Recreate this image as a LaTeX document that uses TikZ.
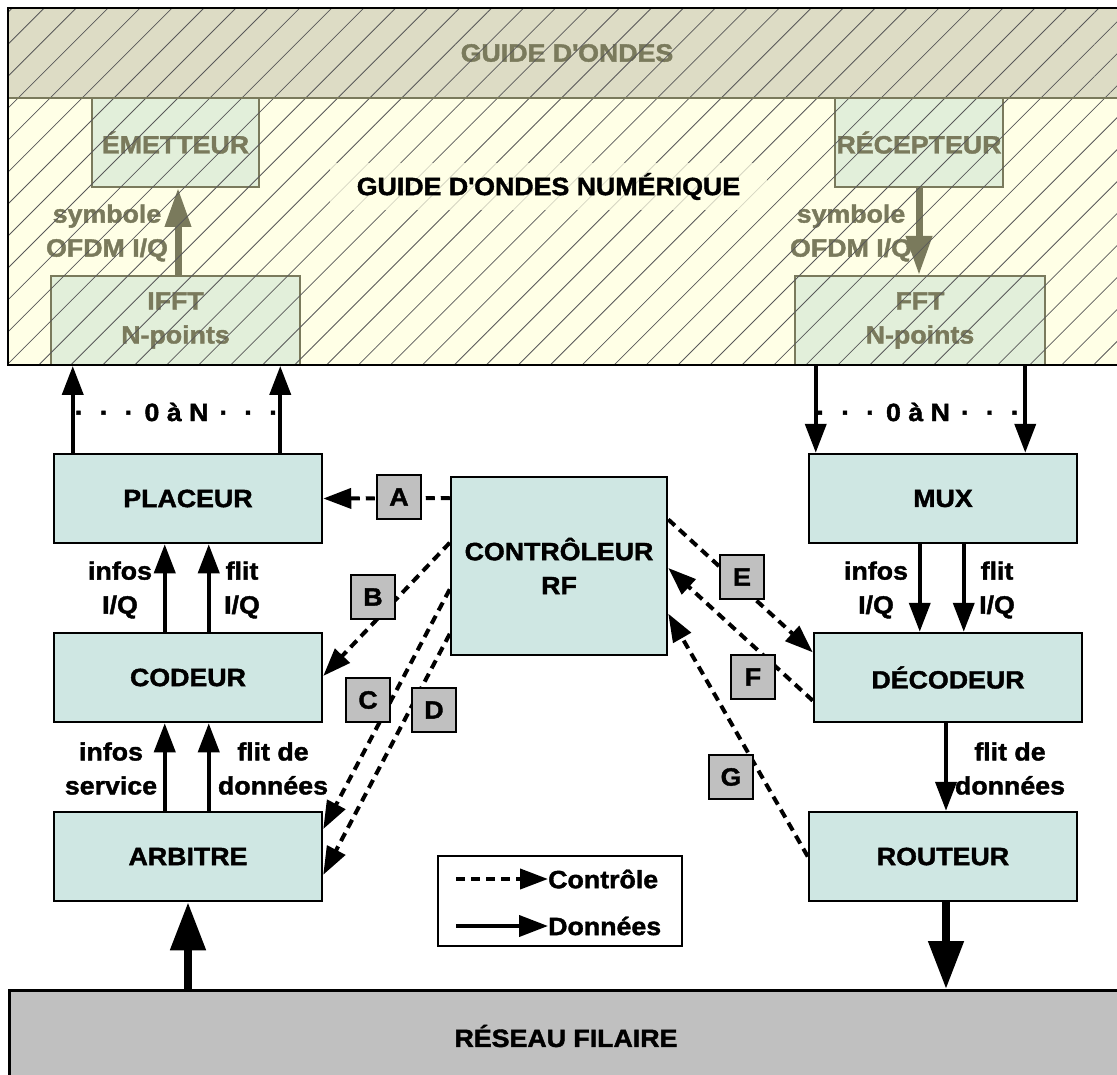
\documentclass[tikz,border=0pt]{standalone}
\usepackage{fontspec}
\setmainfont{Liberation Sans}[FakeStretch=1.07, BoldFeatures={FakeBold=1.6}]
\usetikzlibrary{arrows.meta,patterns.meta,calc}
\definecolor{boxfill}{RGB}{207,231,227}
\definecolor{wgolive}{RGB}{122,122,92}
\definecolor{wgtop}{RGB}{221,220,197}
\definecolor{wgbot}{RGB}{255,255,230}
\definecolor{wgbox}{RGB}{226,239,218}
\definecolor{labgrey}{RGB}{192,192,192}
\tikzset{
  txt/.style={font=\fontsize{25}{34}\selectfont\bfseries, align=center, inner sep=0pt},
  blockbox/.style={txt, draw=black, line width=2.5pt, fill=boxfill, minimum width=268pt, minimum height=89pt},
  wgblock/.style={txt, draw=wgolive, line width=2pt, fill=wgbox, text=wgolive},
  letterbox/.style={txt, draw=black, line width=2.5pt, fill=labgrey, minimum width=44pt, minimum height=44pt},
  dataarrow/.style={line width=4pt, -{Triangle[length=29pt,width=21pt]}},
  ctrlarrow/.style={line width=4pt, dash pattern=on 9pt off 6pt, -{Triangle[length=28pt,width=20pt]}},
  bigarrow/.style={line width=8pt, -{Triangle[length=48pt,width=34pt]}},
  olivearrow/.style={draw=wgolive, line width=7pt, -{Triangle[length=39pt,width=25pt]}},
}
\begin{document}
\begin{tikzpicture}[x=1pt,y=-1pt]
\useasboundingbox (0,0) rectangle (1117,1075);

% waveguide bands
\fill[wgtop] (8,8) rectangle (1125,98);
\fill[wgbot] (8,98) rectangle (1125,365);

% waveguide blocks
\node[wgblock, minimum width=167pt, minimum height=89pt] (emetteur) at (175.5,142.5) {ÉMETTEUR};
\node[wgblock, minimum width=249pt, minimum height=89pt] (ifft) at (175.5,320.5) {IFFT\\N-points};
\node[wgblock, minimum width=168pt, minimum height=89pt] (recepteur) at (919,142.5) {RÉCEPTEUR};
\node[wgblock, minimum width=250pt, minimum height=89pt] (fft) at (920,320.5) {FFT\\N-points};

\draw[olivearrow] ([xshift=2.5pt]ifft.north) -- ([xshift=2.5pt]ifft.north |- emetteur.south);
\draw[olivearrow] (recepteur.south) -- (recepteur.south |- fft.north);

\node[txt, text=wgolive] (symL) at (107,233) {symbole\\OFDM I/Q};
\node[txt, text=wgolive] (symR) at (851,233) {symbole\\OFDM I/Q};
\node[txt, text=wgolive] (guide) at (567,53) {GUIDE D\textquotesingle ONDES};

% hatching over the waveguide
\fill[pattern={Lines[angle=45,distance=22.6pt,line width=0.8pt]}, pattern color=black!65] (8,8) rectangle (1125,365);

\node[txt, fill=wgbot, fill opacity=0.75, text opacity=1, minimum width=437pt, minimum height=47pt] (num) at (548.5,186.5) {GUIDE D\textquotesingle ONDES NUMÉRIQUE};

\draw[wgolive, line width=1.5pt] (8,98) -- (1125,98);
\draw[black, line width=2.5pt] (1125,8) -- (8,8) -- (8,365) -- (1125,365);

% blocks
\node[blockbox] (placeur) at (188,498.5) {PLACEUR};
\node[blockbox] (codeur) at (188,677.5) {CODEUR};
\node[blockbox] (arbitre) at (188,856.5) {ARBITRE};
\node[blockbox] (mux) at (943,498.5) {MUX};
\node[blockbox] (decodeur) at (948,677.5) {DÉCODEUR};
\node[blockbox] (routeur) at (943,856.5) {ROUTEUR};
\node[blockbox, minimum width=216pt, minimum height=178pt] (ctrl) at (559,566) {CONTRÔLEUR\\RF};
\node[txt, draw=black, line width=2.5pt, fill=labgrey, minimum width=1125pt, minimum height=96pt, anchor=north west] (reseau) at (8,989) {};
\node[txt] (reseaulabel) at (566,1036) {RÉSEAU FILAIRE};

% data arrows
\draw[dataarrow] ([xshift=20pt]placeur.north west) -- ([xshift=20pt]placeur.north west |- ifft.south);
\draw[dataarrow] ([xshift=-43pt]placeur.north east) -- ([xshift=-43pt]placeur.north east |- ifft.south);
\draw[dataarrow] ([xshift=8pt]mux.north west |- fft.south) -- ([xshift=8pt]mux.north west);
\draw[dataarrow] ([xshift=-53pt]mux.north east |- fft.south) -- ([xshift=-53pt]mux.north east);
\node[txt] (zn1) at (176.5,412) {·\hspace{16pt}·\hspace{16pt}·\hspace{11pt}0 à N\hspace{11pt}·\hspace{16pt}·\hspace{16pt}·};
\node[txt] (zn2) at (918,412) {·\hspace{16pt}·\hspace{16pt}·\hspace{11pt}0 à N\hspace{11pt}·\hspace{16pt}·\hspace{16pt}·};

\draw[dataarrow] ([xshift=112pt]codeur.north west) -- ([xshift=112pt]placeur.south west);
\draw[dataarrow] ([xshift=156pt]codeur.north west) -- ([xshift=156pt]placeur.south west);
\draw[dataarrow] ([xshift=112pt]arbitre.north west) -- ([xshift=112pt]codeur.south west);
\draw[dataarrow] ([xshift=156pt]arbitre.north west) -- ([xshift=156pt]codeur.south west);
\draw[dataarrow] ([xshift=112pt]mux.south west) -- ([xshift=112pt]mux.south west |- decodeur.north);
\draw[dataarrow] ([xshift=156pt]mux.south west) -- ([xshift=156pt]mux.south west |- decodeur.north);
\draw[dataarrow] ([xshift=3pt]routeur.north |- decodeur.south) -- ([xshift=3pt]routeur.north);

\node[txt] (l1) at (120,590) {infos\\I/Q};
\node[txt] (l2) at (242,590) {flit\\I/Q};
\node[txt] (l3) at (111,768.5) {infos\\service};
\node[txt] (l4) at (273,768.5) {flit de\\données};
\node[txt] (l5) at (876,590) {infos\\I/Q};
\node[txt] (l6) at (997,590) {flit\\I/Q};
\node[txt] (l7) at (1010,768.5) {flit de\\données};

\draw[bigarrow] (arbitre.south |- reseau.north) -- (arbitre.south);
\draw[bigarrow] ([xshift=3pt]routeur.south) -- ([xshift=3pt]routeur.south |- reseau.north);

% control arrows
\draw[ctrlarrow] ($(ctrl.north west)!0.124!(ctrl.south west)$) -- (placeur.east);
\draw[ctrlarrow] ($(ctrl.north west)!0.371!(ctrl.south west)$) -- ($(codeur.north east)!0.483!(codeur.south east)$);
\draw[ctrlarrow] ($(ctrl.north west)!0.629!(ctrl.south west)$) -- ($(arbitre.north east)!0.2!(arbitre.south east)$);
\draw[ctrlarrow] ($(ctrl.north west)!0.876!(ctrl.south west)$) -- ($(arbitre.north east)!0.7!(arbitre.south east)$);
\draw[ctrlarrow] ($(ctrl.north east)!0.242!(ctrl.south east)$) -- ($(decodeur.north west)!0.225!(decodeur.south west)$);
\draw[ctrlarrow] ($(decodeur.north west)!0.753!(decodeur.south west)$) -- ($(ctrl.north east)!0.511!(ctrl.south east)$);
\draw[ctrlarrow] (routeur.west) -- ($(ctrl.north east)!0.764!(ctrl.south east)$);

\node[letterbox] (la) at (399,497) {A};
\node[letterbox] (lb) at (373,597) {B};
\node[letterbox] (lc) at (368,700) {C};
\node[letterbox] (ld) at (434,710) {D};
\node[letterbox] (le) at (742,577) {E};
\node[letterbox] (lf) at (753,677) {F};
\node[letterbox] (lg) at (731,777) {G};

% legend
\node[draw=black, line width=2.5pt, fill=white, minimum width=244pt, minimum height=90pt] (legend) at (560,901) {};
\node[txt, anchor=west] (lgc) at (548,879) {Contrôle};
\node[txt, anchor=west] (lgd) at (548,926) {Données};
\coordinate (lgcs) at (456,879);
\coordinate (lgds) at (456,926);
\draw[ctrlarrow] (lgcs) -- (lgc.west);
\draw[dataarrow] (lgds) -- (lgd.west);
\end{tikzpicture}
\end{document}
